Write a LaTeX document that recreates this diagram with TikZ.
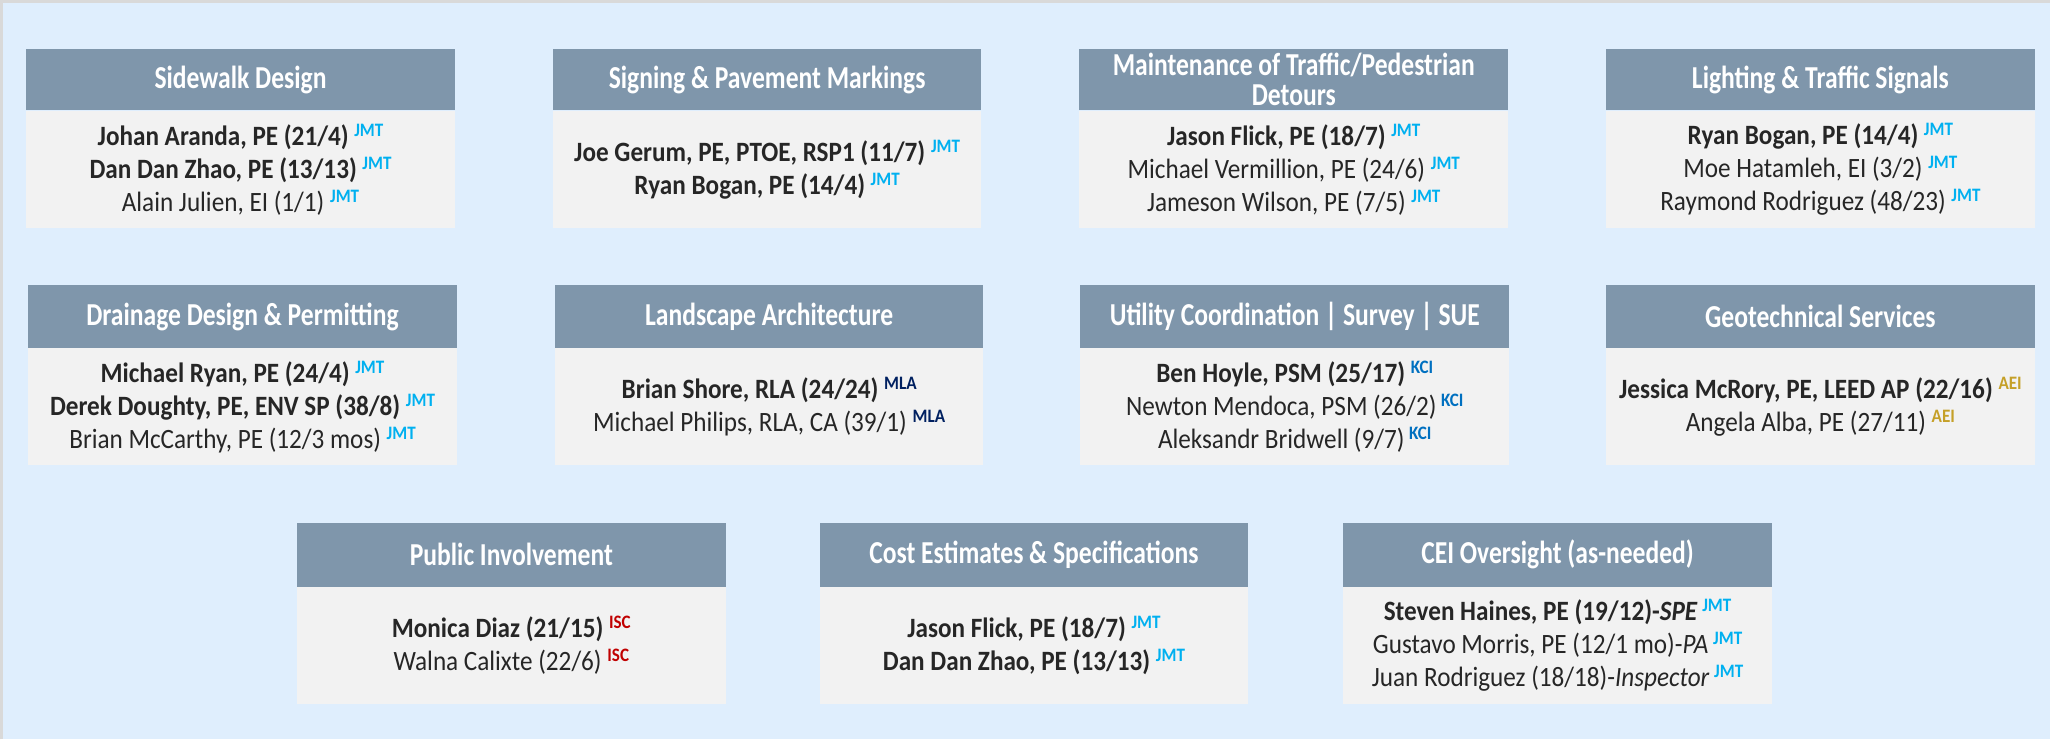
\documentclass[tikz,border=0pt]{standalone}
\usepackage{fontspec}
\setmainfont{Carlito}[FakeStretch=0.9]
\newfontfamily\headfont{Carlito}[FakeStretch=0.8]
\usetikzlibrary{positioning}
\definecolor{bgblue}{HTML}{DFEEFD}
\definecolor{framegray}{HTML}{D9D9D9}
\definecolor{headgray}{HTML}{7F96AB}
\definecolor{bodygray}{HTML}{F2F2F2}
\definecolor{textdark}{HTML}{262626}
\definecolor{jmtblue}{HTML}{00B0F0}
\definecolor{mlanavy}{HTML}{002060}
\definecolor{kciblue}{HTML}{0070C0}
\definecolor{aeigold}{HTML}{C5A028}
\definecolor{iscred}{HTML}{C00000}
\newcommand{\firmtag}[2]{\raisebox{9pt}{\fontsize{19}{19}\selectfont\bfseries\color{#1}#2}}
\newcommand{\jmt}{\firmtag{jmtblue}{JMT}}
\newcommand{\mla}{\firmtag{mlanavy}{MLA}}
\newcommand{\kci}{\firmtag{kciblue}{KCI}}
\newcommand{\aei}{\firmtag{aeigold}{AEI}}
\newcommand{\isc}{\firmtag{iscred}{ISC}}
\tikzset{
head/.style={rectangle, fill=headgray, text=white, anchor=north west, align=center, inner sep=0pt, minimum width=429pt, minimum height=61pt, font=\headfont\bfseries\fontsize{32}{30}\selectfont},
team/.style={rectangle, fill=bodygray, text=textdark, align=center, inner sep=0pt, minimum width=429pt, minimum height=118pt, font=\fontsize{28}{33}\selectfont}
}

\begin{document}
\begin{tikzpicture}[x=1pt, y=1pt]
    % Background
    \fill [bgblue] (0,0) rectangle (2051,-740);
    \draw [framegray, line width=3pt] (1.5,-740) -- (1.5,-1.5) -- (2051,-1.5);
    \useasboundingbox (0,0) rectangle (2051,-740);
    % Place nodes, first row
    \node [head] (sidewalk) at (26,-49) {Sidewalk Design};
    \node [team, below=0pt of sidewalk] (sidewalkteam) {\textbf{Johan Aranda, PE (21/4)}~\jmt\\ \textbf{Dan Dan Zhao, PE (13/13)}~\jmt\\ Alain Julien, EI (1/1)~\jmt};
    \node [head] (signing) at (553,-49) {Signing \& Pavement Markings};
    \node [team, below=0pt of signing] (signingteam) {\textbf{Joe Gerum, PE, PTOE, RSP1 (11/7)}~\jmt\\ \textbf{Ryan Bogan, PE (14/4)}~\jmt};
    \node [head] (maintenance) at (1080,-49) {Maintenance of Traffic/Pedestrian\\ Detours};
    \node [team, below=0pt of maintenance] (maintenanceteam) {\textbf{Jason Flick, PE (18/7)}~\jmt\\ Michael Vermillion, PE (24/6)~\jmt\\ Jameson Wilson, PE (7/5)~\jmt};
    \node [head] (lighting) at (1607,-49) {Lighting \& Traffic Signals};
    \node [team, below=0pt of lighting] (lightingteam) {\textbf{Ryan Bogan, PE (14/4)}~\jmt\\ Moe Hatamleh, EI (3/2)~\jmt\\ Raymond Rodriguez (48/23)~\jmt};
    % Second row
    \node [head, minimum height=63pt] (drainage) at (28,-285) {Drainage Design \& Permitting};
    \node [team, minimum height=117pt, below=0pt of drainage] (drainageteam) {\textbf{Michael Ryan, PE (24/4)}~\jmt\\ \textbf{Derek Doughty, PE, ENV SP (38/8)}~\jmt\\ Brian McCarthy, PE (12/3 mos)~\jmt};
    \node [head, minimum height=63pt] (landscape) at (555,-285) {Landscape Architecture};
    \node [team, minimum height=117pt, below=0pt of landscape] (landscapeteam) {\textbf{Brian Shore, RLA (24/24)}~\mla\\ Michael Philips, RLA, CA (39/1)~\mla};
    \node [head, minimum height=63pt] (utility) at (1081,-285) {Utility Coordination | Survey | SUE};
    \node [team, minimum height=117pt, below=0pt of utility] (utilityteam) {\textbf{Ben Hoyle, PSM (25/17)}~\kci\\ Newton Mendoca, PSM (26/2)\,\kci\\ Aleksandr Bridwell (9/7)\,\kci};
    \node [head, minimum height=63pt] (geotech) at (1607,-285) {Geotechnical Services};
    \node [team, minimum height=117pt, below=0pt of geotech] (geotechteam) {\textbf{Jessica McRory, PE, LEED AP (22/16)}~\aei\\ Angela Alba, PE (27/11)~\aei};
    % Third row
    \node [head, minimum height=64pt] (public) at (297,-523) {Public Involvement};
    \node [team, minimum height=117pt, below=0pt of public] (publicteam) {\textbf{Monica Diaz (21/15)}~\isc\\ Walna Calixte (22/6)~\isc};
    \node [head, minimum height=64pt] (cost) at (820,-523) {Cost Estimates \& Specifications};
    \node [team, minimum height=117pt, below=0pt of cost] (costteam) {\textbf{Jason Flick, PE (18/7)}~\jmt\\ \textbf{Dan Dan Zhao, PE (13/13)}~\jmt};
    \node [head, minimum height=64pt] (cei) at (1344,-523) {CEI Oversight (as-needed)};
    \node [team, minimum height=117pt, below=0pt of cei] (ceiteam) {\textbf{Steven Haines, PE (19/12)-\textit{SPE}}\,\jmt\\ Gustavo Morris, PE (12/1 mo)-\textit{PA}\,\jmt\\ Juan Rodriguez (18/18)-\textit{Inspector}\,\jmt};
\end{tikzpicture}
\end{document}
